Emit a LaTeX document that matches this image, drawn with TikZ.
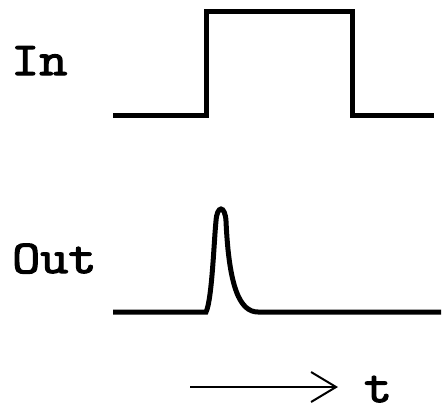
\documentclass[tikz,border=0pt]{standalone}
\usepackage{fontspec}
\usepackage{graphicx}
\newfontfamily\lblfont{Latin Modern Mono}[FakeBold=2.5]
\newcommand{\widetxt}[1]{\scalebox{1.16}[1]{#1}}
\usetikzlibrary{arrows.meta}
\tikzset{
  lbl/.style={font=\lblfont\fontsize{47}{54}\selectfont, inner sep=0pt, anchor=base west},
  sig/.style={line width=5pt, line join=miter},
  axis/.style={line width=2pt, -{Straight Barb[length=25pt,width=30pt,line width=2pt]}}
}
\begin{document}
\begin{tikzpicture}[x=1pt,y=-1pt]
\useasboundingbox (0,0) rectangle (443,412);
% labels
\node[lbl] (in) at (11,75) {\widetxt{In}};
\node[lbl] (out) at (12,273) {\widetxt{Out}};
% input square pulse
\draw[sig] (113,115) -- (206,115) -- (206,12) -- (352,12) -- (352,115) -- (434,115);
% output spike
\draw[sig] (113,312) -- (206,312)
  .. controls (212,300) and (214,240) .. (216,221)
  .. controls (217,205) and (225,205) .. (226,221)
  .. controls (229,288) and (240,312) .. (258,312) -- (441,312);
% time axis
\coordinate (a0) at (190,387);
\coordinate (a1) at (338,387);
\draw[axis] (a0) -- (a1);
\node[lbl, anchor=base] (t) at (378,402) {\widetxt{t}};
\end{tikzpicture}
\end{document}
